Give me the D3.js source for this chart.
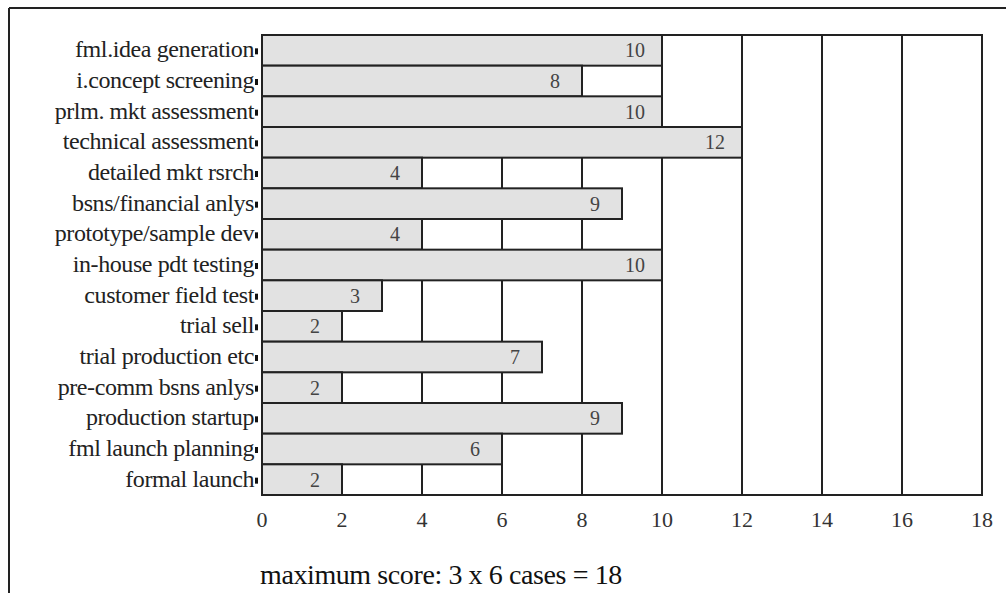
<!DOCTYPE html>
<html><head><meta charset="utf-8">
<script src="https://cdn.jsdelivr.net/npm/d3@7"></script>
<style>body{margin:0;background:#fff}svg{display:block}text{font-family:"Liberation Serif","DejaVu Serif",serif}</style>
</head><body><svg id="c" width="1006" height="593"></svg>
<script>
const categories = ["fml.idea generation","i.concept screening","prlm. mkt assessment","technical assessment","detailed mkt rsrch","bsns/financial anlys","prototype/sample dev","in-house pdt testing","customer field test","trial sell","trial production etc","pre-comm bsns anlys","production startup","fml launch planning","formal launch"];
const values = [10,8,10,12,4,9,4,10,3,2,7,2,9,6,2];
const xTicks = [0,2,4,6,8,10,12,14,16,18];
const note = "maximum score: 3 x 6 cases = 18";

const svg = d3.select("#c");
const m = {left:262, right:982, top:35, bottom:495};
const x = d3.scaleLinear().domain([0,18]).range([m.left, m.right]);
const y = d3.scaleBand().domain(categories).range([m.top, m.bottom]).padding(0);

// outer frame
svg.append("line").attr("x1",9).attr("x2",1006).attr("y1",8).attr("y2",8).attr("stroke","#222").attr("stroke-width",2);
svg.append("line").attr("x1",9).attr("x2",9).attr("y1",8).attr("y2",593).attr("stroke","#222").attr("stroke-width",2);

// gridlines
svg.append("g").selectAll("line").data(xTicks.filter(d=>d>0)).join("line")
  .attr("x1",d=>x(d)).attr("x2",d=>x(d)).attr("y1",m.top).attr("y2",m.bottom)
  .attr("stroke","#222").attr("stroke-width",2);

// plot frame
svg.append("rect").attr("x",m.left).attr("y",m.top).attr("width",m.right-m.left).attr("height",m.bottom-m.top)
  .attr("fill","none").attr("stroke","#222").attr("stroke-width",2);

// bars
svg.append("g").selectAll("rect").data(values).join("rect")
  .attr("x",x(0)).attr("y",(d,i)=>y(categories[i]))
  .attr("width",d=>x(d)-x(0)).attr("height",y.bandwidth())
  .attr("fill","#e2e2e2").attr("stroke","#222").attr("stroke-width",2);

// value labels
svg.append("g").selectAll("text").data(values).join("text")
  .attr("x",d=>x(d)-27).attr("y",(d,i)=>y(categories[i])+y.bandwidth()/2+7)
  .attr("text-anchor","middle").attr("font-size",20).attr("fill","#444").text(d=>d);

// category labels
svg.append("g").selectAll("text").data(categories).join("text")
  .attr("x",m.left-8).attr("y",d=>y(d)+y.bandwidth()/2+7)
  .attr("text-anchor","end").attr("font-size",24).attr("fill","#222")
  .attr("letter-spacing","-0.4").text(d=>d);
// tick marks at label ends
svg.append("g").selectAll("rect").data(categories).join("rect")
  .attr("x",m.left-7).attr("y",d=>y(d)+y.bandwidth()/2-2).attr("width",3).attr("height",6).attr("fill","#111");

// x tick labels
svg.append("g").selectAll("text").data(xTicks).join("text")
  .attr("x",d=>x(d)).attr("y",527).attr("text-anchor","middle").attr("font-size",22).attr("fill","#333").text(d=>d);

svg.append("text").attr("x",x(0)-2).attr("y",584).attr("font-size",28).attr("fill","#111").attr("letter-spacing","-0.4").text(note);
</script></body></html>
